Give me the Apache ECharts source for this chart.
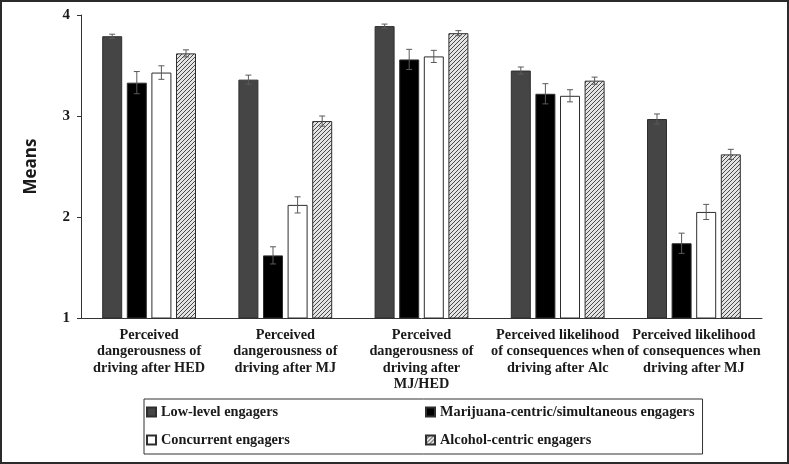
<!DOCTYPE html>
<html>
<head>
<meta charset="utf-8">
<script src="https://cdn.jsdelivr.net/npm/echarts@6/dist/echarts.min.js"></script>
<style>
html,body{margin:0;padding:0;background:#fff;}
#chart{width:789px;height:464px;}
</style>
</head>
<body>
<div id="chart"></div>
<script>
var categories = [
  "Perceived\ndangerousness of\ndriving after HED",
  "Perceived\ndangerousness of\ndriving after MJ",
  "Perceived\ndangerousness of\ndriving after\nMJ/HED",
  "Perceived likelihood\nof consequences when\ndriving after Alc",
  "Perceived likelihood\nof consequences when\ndriving after MJ"
];
var seriesNames = ["Low-level engagers", "Marijuana-centric/simultaneous engagers", "Concurrent engagers", "Alcohol-centric engagers"];
var legendOrder = ["Low-level engagers", "Concurrent engagers", "Marijuana-centric/simultaneous engagers", "Alcohol-centric engagers"];
var lowLevel = [3.79, 3.36, 3.89, 3.45, 2.97];
var mjCentric = [3.33, 1.62, 3.56, 3.22, 1.74];
var concurrent = [3.43, 2.12, 3.59, 3.20, 2.05];
var alcoholCentric = [3.62, 2.95, 3.82, 3.35, 2.62];
var lowErr = [0.02, 0.045, 0.02, 0.035, 0.05];
var mjErr = [0.11, 0.085, 0.10, 0.10, 0.10];
var concErr = [0.067, 0.08, 0.06, 0.06, 0.075];
var alcErr = [0.035, 0.05, 0.025, 0.035, 0.05];
var yTicks = [1, 2, 3, 4];

var values = [lowLevel, mjCentric, concurrent, alcoholCentric];
var errors = [lowErr, mjErr, concErr, alcErr];

// hatch pattern
var pc = document.createElement('canvas');
pc.width = 4; pc.height = 4;
var px = pc.getContext('2d');
px.fillStyle = '#e4e4e4';
px.fillRect(0, 0, 4, 4);
px.strokeStyle = '#4a4a4a';
px.lineWidth = 1;
px.beginPath();
px.moveTo(0, 4); px.lineTo(4, 0);
px.moveTo(-1, 1); px.lineTo(1, -1);
px.moveTo(3, 5); px.lineTo(5, 3);
px.stroke();

var fills = ['#454545', '#000000', '#ffffff', {image: pc, repeat: 'repeat'}];
var BAR_W = 20, BAR_GAP = '23%';
var serifFont = '"Liberation Serif", "Times New Roman", serif';

var series = [];
values.forEach(function (vals, si) {
  series.push({
    name: seriesNames[si],
    type: 'bar',
    data: vals,
    barWidth: BAR_W,
    barGap: BAR_GAP,
    itemStyle: {color: fills[si], borderColor: '#2e2e2e', borderWidth: 1},
    emphasis: {disabled: true}
  });
});
values.forEach(function (vals, si) {
  var d = vals.map(function (v, i) { return [i, v, errors[si][i]]; });
  series.push({
    type: 'custom',
    z: 5,
    silent: true,
    data: d,
    encode: {x: 0, y: 1},
    renderItem: function (params, api) {
      var ci = api.value(0), v = api.value(1), e = api.value(2);
      var layout = api.barLayout({barWidth: BAR_W, barGap: BAR_GAP, count: 4});
      var off = layout[si].offsetCenter;
      var top = api.coord([ci, v + e]);
      var bot = api.coord([ci, v - e]);
      var x = top[0] + off;
      var cap = 3;
      var st = {stroke: '#5a5a5a', lineWidth: 1};
      return {
        type: 'group',
        children: [
          {type: 'line', shape: {x1: x, y1: top[1], x2: x, y2: bot[1]}, style: st},
          {type: 'line', shape: {x1: x - cap, y1: top[1], x2: x + cap, y2: top[1]}, style: st},
          {type: 'line', shape: {x1: x - cap, y1: bot[1], x2: x + cap, y2: bot[1]}, style: st}
        ]
      };
    }
  });
});

var chart = echarts.init(document.getElementById('chart'), null, {renderer: 'canvas'});
chart.setOption({
  animation: false,
  backgroundColor: '#ffffff',
  grid: {left: 81, right: 27, top: 15, bottom: 146, containLabel: false},
  xAxis: {
    type: 'category',
    data: categories,
    axisLine: {lineStyle: {color: '#333', width: 1}},
    axisTick: {show: false},
    axisLabel: {
      interval: 0,
      margin: 9,
      color: '#1a1a1a',
      fontFamily: serifFont,
      fontWeight: 'bold',
      fontSize: 14.3,
      lineHeight: 16.5
    }
  },
  yAxis: {
    type: 'value',
    min: yTicks[0],
    max: yTicks[yTicks.length - 1],
    interval: 1,
    name: 'Means',
    nameLocation: 'middle',
    nameGap: 41,
    nameRotate: 90,
    nameTextStyle: {fontFamily: '"Open Sans", "Noto Sans", sans-serif', fontWeight: 'bold', fontSize: 17, color: '#1a1a1a'},
    axisLine: {show: true, lineStyle: {color: '#333', width: 1}},
    axisTick: {show: true, length: 4, lineStyle: {color: '#333'}},
    splitLine: {show: false},
    axisLabel: {
      margin: 11,
      color: '#1a1a1a',
      fontFamily: serifFont,
      fontWeight: 'bold',
      fontSize: 15
    }
  },
  legend: {
    data: legendOrder,
    left: 144,
    top: 399,
    height: 60,
    orient: 'vertical',
    itemWidth: 9,
    itemHeight: 9,
    itemGap: 14,
    padding: [6, 8, 7, 2],
    borderColor: '#333',
    borderWidth: 1,
    backgroundColor: '#fff',
    icon: 'rect',
    selectedMode: false,
    textStyle: {
      fontFamily: serifFont,
      fontWeight: 'bold',
      fontSize: 14.3,
      color: '#1a1a1a',
      width: 250,
      lineHeight: 13
    }
  },
  graphic: [{
    type: 'rect',
    shape: {x: 1, y: 1, width: 787, height: 462},
    style: {fill: 'none', stroke: '#2b2b2b', lineWidth: 2},
    silent: true,
    z: 100
  }],
  series: series
});
</script>
</body>
</html>
